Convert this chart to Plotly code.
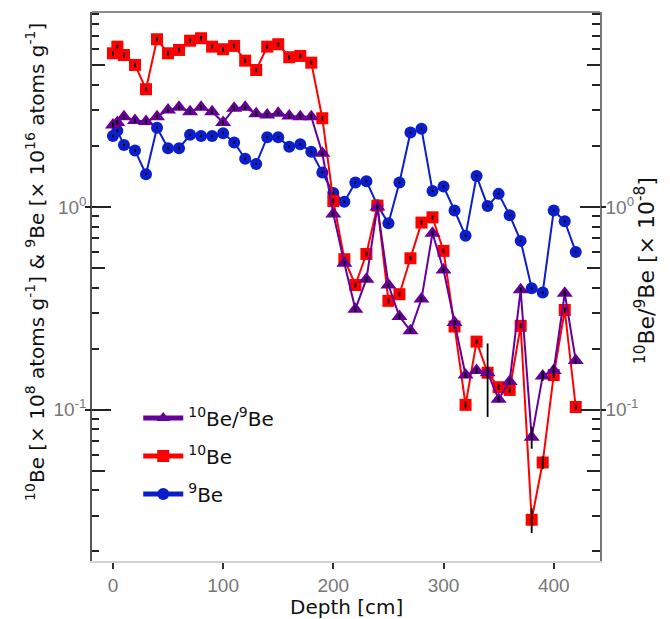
import math
import plotly.graph_objects as go

# ---------------- data ----------------
depth = [0, 4, 10, 20, 30, 40, 50, 60, 70, 80, 90, 100, 110, 120, 130, 140, 150, 160, 170, 180,
         190, 200, 210, 220, 230, 240, 250, 260, 270, 280, 290, 300, 310, 320, 330, 340, 350, 360,
         370, 380, 390, 400, 410, 420]

be10 = [5.73, 6.18, 5.62, 5.02, 3.81, 6.72, 5.73, 5.95, 6.61, 6.80, 6.18, 6.00, 6.23, 5.27, 4.74,
        6.18, 6.35, 5.48, 5.56, 5.15, 2.74, 1.07, 0.552, 0.412, 0.586, 1.015, 0.344, 0.371, 0.558,
        0.837, 0.889, 0.607, 0.257, 0.1055, 0.2165, 0.152, 0.129, 0.125, 0.259, 0.0286, 0.0548,
        0.148, 0.310, 0.103]
be10_err = [0.15, 0.15, 0.15, 0.13, 0.10, 0.17, 0.15, 0.15, 0.17, 0.17, 0.15, 0.15, 0.15, 0.13, 0.12,
            0.15, 0.16, 0.14, 0.14, 0.13, 0.07, 0.03, 0.015, 0.012, 0.016, 0.03, 0.01, 0.01, 0.015,
            0.022, 0.024, 0.016, 0.007, 0.004, 0.006, 0.005, 0.004, 0.004, 0.007, 0.004, 0.004,
            0.005, 0.009, 0.003]

ratio = [2.54, 2.61, 2.79, 2.67, 2.64, 2.79, 3.01, 3.10, 2.95, 3.10, 2.95, 2.61, 3.07, 3.10, 2.88,
         2.84, 2.90, 2.81, 2.79, 2.79, 1.84, 0.924, 0.527, 0.313, 0.440, 1.0, 0.412, 0.288, 0.245,
         0.351, 0.742, 0.489, 0.269, 0.148, 0.156, 0.152, 0.1125, 0.1375, 0.390, 0.0731, 0.1466,
         0.156, 0.375, 0.1745]
ratio_err = [0.07, 0.07, 0.07, 0.07, 0.07, 0.07, 0.08, 0.08, 0.07, 0.08, 0.07, 0.07, 0.08, 0.08, 0.07,
             0.07, 0.07, 0.07, 0.07, 0.07, 0.05, 0.025, 0.015, 0.01, 0.012, 0.03, 0.012, 0.008, 0.007,
             0.01, 0.02, 0.014, 0.008, 0.005, 0.005, 0.06, 0.004, 0.005, 0.012, 0.009, 0.008,
             0.01, 0.012, 0.006]

be9 = [2.24, 2.38, 2.02, 1.90, 1.45, 2.46, 1.95, 1.95, 2.27, 2.24, 2.24, 2.31, 2.08, 1.73, 1.63,
       2.21, 2.21, 1.98, 2.04, 1.87, 1.48, 1.17, 1.06, 1.32, 1.34, 1.02, 0.83, 1.32, 2.33, 2.43,
       1.20, 1.26, 0.96, 0.72, 1.42, 1.01, 1.16, 0.91, 0.68, 0.397, 0.378, 0.96, 0.85, 0.60]
be9_err = [0.03, 0.03, 0.03, 0.03, 0.02, 0.03, 0.03, 0.03, 0.03, 0.03, 0.03, 0.03, 0.03, 0.02, 0.02,
           0.03, 0.03, 0.03, 0.03, 0.03, 0.02, 0.02, 0.015, 0.02, 0.02, 0.015, 0.012, 0.02, 0.03, 0.03,
           0.015, 0.02, 0.012, 0.01, 0.02, 0.012, 0.015, 0.012, 0.01, 0.006, 0.006, 0.012, 0.012, 0.008]

x_ticks = [0, 100, 200, 300, 400]
major_ticks = [0.1, 1]
major_labels = ["10<sup>-1</sup>", "10<sup>0</sup>"]
mid_ticks = [0.05, 0.5, 5]
minor_ticks = [m * d for d in (0.01, 0.1, 1) for m in (2, 3, 4, 6, 7, 8, 9)]

y_lo, y_hi = 0.0179, 9.16
x_lo, x_hi = -19, 442

RED = "#ff0000"
PURPLE = "#660099"
BLUE = "#0a1ecc"
TXT = "#111111"

fig = go.Figure()

fig.add_trace(go.Scatter(x=depth, y=be9, mode="lines+markers", name="<sup>9</sup>Be",
                         line=dict(color=BLUE, width=2),
                         marker=dict(symbol="circle", size=12, color=BLUE),
                         legendrank=3, legendgroup="c"))
fig.add_trace(go.Scatter(x=depth, y=be10, mode="lines+markers", name="<sup>10</sup>Be",
                         line=dict(color=RED, width=2),
                         marker=dict(symbol="square", size=12, color=RED),
                         legendrank=2, legendgroup="b"))
# error bars drawn on top of markers
for ys, es in ((be9, be9_err), (be10, be10_err)):
    fig.add_trace(go.Scatter(x=depth, y=ys, mode="markers", showlegend=False, hoverinfo="skip",
                             marker=dict(size=1, opacity=0),
                             error_y=dict(type="data", array=es, color="black", thickness=1.8, width=0)))

fig.add_trace(go.Scatter(x=depth, y=ratio, mode="lines+markers", name="<sup>10</sup>Be/<sup>9</sup>Be",
                         line=dict(color=PURPLE, width=2),
                         marker=dict(symbol="triangle-up", size=14, color=PURPLE),
                         yaxis="y2", legendrank=1, legendgroup="a"))
fig.add_trace(go.Scatter(x=depth, y=ratio, mode="markers", showlegend=False, hoverinfo="skip",
                         marker=dict(size=1, opacity=0), yaxis="y2",
                         error_y=dict(type="data", array=ratio_err, color="black", thickness=1.8, width=0)))

yr = [math.log10(y_lo), math.log10(y_hi)]
tickfont = dict(family="Liberation Sans", size=19, color="#777")

# page body has an 8px margin: figure is 662x611 placed at (8,8)
fig.update_layout(
    width=662, height=611,
    margin=dict(l=84, r=70, t=4, b=58),
    paper_bgcolor="white", plot_bgcolor="white",
    showlegend=True,
    legend=dict(x=0.091, y=0.296, xanchor="left", yanchor="top",
                font=dict(family="DejaVu Sans", size=20, color=TXT),
                bgcolor="rgba(0,0,0,0)", tracegroupgap=9, itemsizing="constant",
                itemwidth=40, traceorder="grouped"),
    xaxis=dict(range=[x_lo, x_hi], showgrid=False, zeroline=False,
               showline=True, linecolor="#d4d4d4", linewidth=1.5,
               tickvals=x_ticks, ticks="outside", ticklen=6, tickwidth=2,
               tickcolor="#333", tickfont=tickfont),
    yaxis=dict(type="log", range=yr, showgrid=False, zeroline=False,
               showline=True, linecolor="#555", linewidth=1.5,
               tickmode="array", tickvals=major_ticks, ticktext=major_labels,
               ticks="inside", ticklen=19, tickwidth=2, tickcolor="#222", tickfont=tickfont,
               minor=dict(tickmode="array", tickvals=minor_ticks, ticks="inside",
                          ticklen=7, tickwidth=2, tickcolor="#222")),
    yaxis2=dict(type="log", range=yr, overlaying="y", side="right", showgrid=False, zeroline=False,
                showline=True, linecolor="#777", linewidth=1.5,
                tickmode="array", tickvals=major_ticks, ticktext=major_labels,
                ticks="inside", ticklen=20, tickwidth=2, tickcolor="#222", tickfont=tickfont,
                minor=dict(tickmode="array", tickvals=minor_ticks, ticks="inside",
                           ticklen=8, tickwidth=2, tickcolor="#222")),
    yaxis3=dict(type="log", range=yr, overlaying="y", side="left", showgrid=False, zeroline=False,
                showline=False, showticklabels=False,
                tickmode="array", tickvals=mid_ticks, ticks="inside", ticklen=13, tickwidth=2,
                tickcolor="#222",
                minor=dict(tickmode="array", tickvals=major_ticks, ticks="outside",
                           ticklen=6, tickwidth=2, tickcolor="#222")),
    yaxis4=dict(type="log", range=yr, overlaying="y", side="right", showgrid=False, zeroline=False,
                showline=False, showticklabels=False,
                tickmode="array", tickvals=mid_ticks, ticks="inside", ticklen=13, tickwidth=2,
                tickcolor="#222",
                minor=dict(tickmode="array", tickvals=major_ticks, ticks="outside",
                           ticklen=5, tickwidth=2, tickcolor="#222")),
    shapes=[dict(type="line", xref="paper", yref="paper", x0=0, x1=1, y0=1, y1=1,
                 line=dict(color="#666", width=1.5))],
    annotations=[
        dict(text="Depth [cm]", xref="paper", yref="paper", x=0.5, y=-0.084,
             xanchor="center", yanchor="middle", showarrow=False,
             font=dict(family="DejaVu Sans", size=20, color=TXT)),
        dict(text="<sup>10</sup>Be [× 10<sup>8</sup> atoms g<sup>-1</sup>] &amp; <sup>9</sup>Be [× 10<sup>16</sup> atoms g<sup>-1</sup>]",
             xref="paper", yref="paper", x=-0.112, y=0.545, textangle=-90,
             xanchor="center", yanchor="middle", showarrow=False,
             font=dict(family="DejaVu Sans", size=20, color=TXT)),
        dict(text="<sup>10</sup>Be/<sup>9</sup>Be [× 10<sup>-8</sup>]",
             xref="paper", yref="paper", x=1.0886, y=0.528, textangle=-90,
             xanchor="center", yanchor="middle", showarrow=False,
             font=dict(family="DejaVu Sans", size=22, color=TXT)),
    ],
)

# dummy traces to activate the tick-only overlay axes
fig.add_trace(go.Scatter(x=[None], y=[None], yaxis="y3", showlegend=False, hoverinfo="skip"))
fig.add_trace(go.Scatter(x=[None], y=[None], yaxis="y4", showlegend=False, hoverinfo="skip"))

fig.write_html("out.html")
